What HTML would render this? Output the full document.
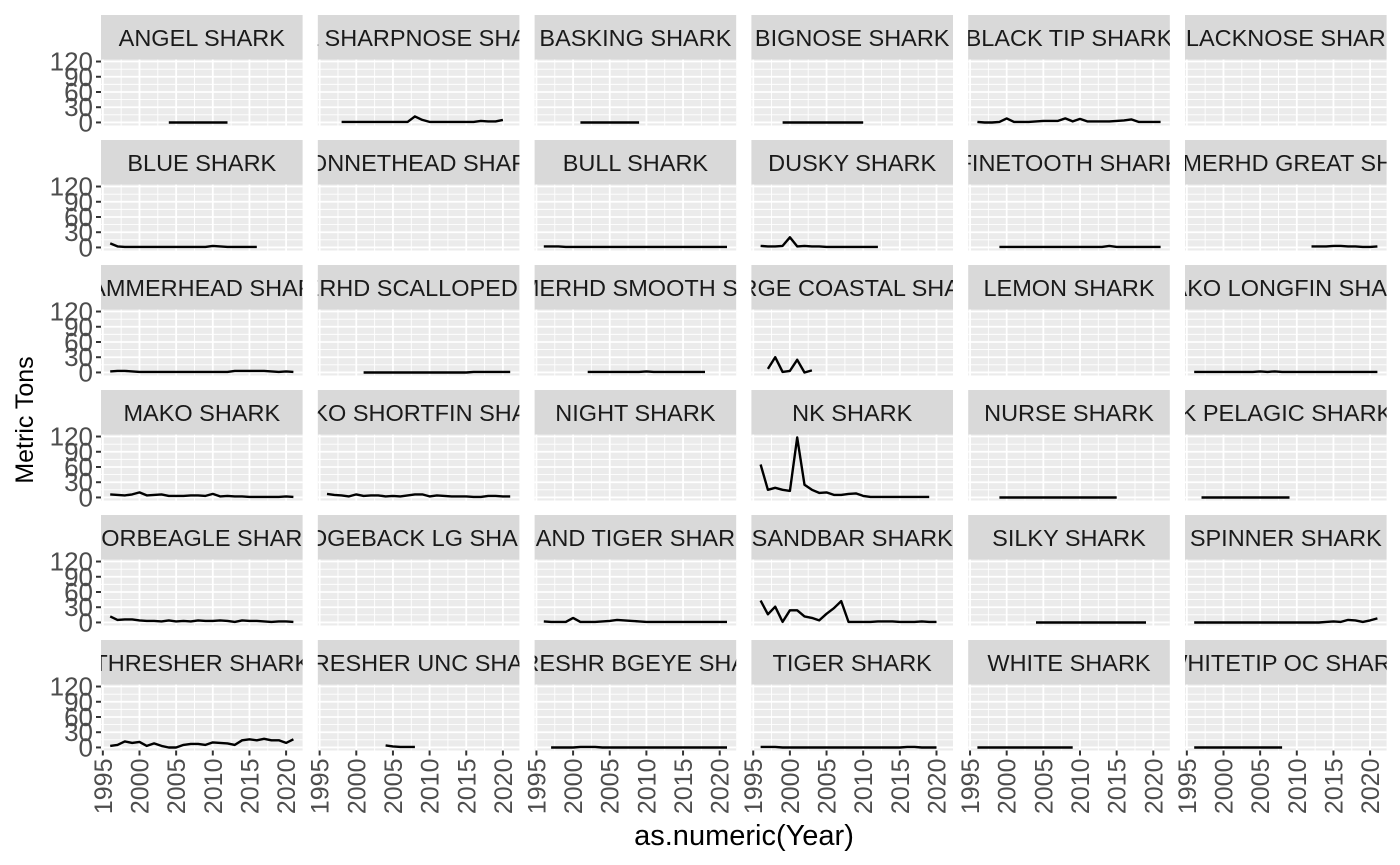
<!DOCTYPE html>
<html><head><meta charset="utf-8">
<style>
html,body{margin:0;padding:0;background:#fff;}
svg{display:block;font-family:"Liberation Sans",Arial,sans-serif;}
</style></head>
<body>
<svg id="chart" width="1400" height="865" viewBox="0 0 1400 865" xmlns="http://www.w3.org/2000/svg">
<text x="0" y="0" transform="translate(33,420) rotate(-90)" text-anchor="middle" font-size="25" fill="#000">Metric Tons</text>
<text x="744" y="845" text-anchor="middle" font-size="29" fill="#000">as.numeric(Year)</text>
</svg>
<script>
const species = ["ANGEL SHARK","ATL SHARPNOSE SHARK","BASKING SHARK","BIGNOSE SHARK","BLACK TIP SHARK","BLACKNOSE SHARK",
"BLUE SHARK","BONNETHEAD SHARK","BULL SHARK","DUSKY SHARK","FINETOOTH SHARK","HAMMERHD GREAT SHARK",
"HAMMERHEAD SHARK","HAMMERHD SCALLOPED SHARK","HAMMERHD SMOOTH SHARK","LARGE COASTAL SHARK","LEMON SHARK","MAKO LONGFIN SHARK",
"MAKO SHARK","MAKO SHORTFIN SHARK","NIGHT SHARK","NK SHARK","NURSE SHARK","NK PELAGIC SHARKS",
"PORBEAGLE SHARK","RIDGEBACK LG SHARK","SAND TIGER SHARK","SANDBAR SHARK","SILKY SHARK","SPINNER SHARK",
"THRESHER SHARK","THRESHER UNC SHARK","THRESHR BGEYE SHARK","TIGER SHARK","WHITE SHARK","WHITETIP OC SHARK"];
const startYears = [2004,1998,2001,1999,1996,null, 1996,null,1996,1996,1999,2012, 1996,2001,2002,1997,null,1996,
 1996,1996,null,1996,1999,1997, 1996,null,1996,1996,2004,1996, 1996,2004,1997,1996,1996,1996];
const seriesValues = [
 [0,0,0,0,0,0,0,0,0],
 [1,1,1,1,1,1,1,1,1,1,12,5,1,1,1,1,1,1,1,3,2,2,5],
 [0,0,0,0,0,0,0,0,0],
 [0,0,0,0,0,0,0,0,0,0,0,0],
 [1,0,0,1,8,1,1,1,2,3,3,3,8,2,7,2,2,2,2,3,4,6,1,1,1,1],
 [],
 [8,2,1,1,1,1,1,1,1,1,1,1,1,1,3,2,1,1,1,1,1],
 [],
 [2,2,2,1,1,1,1,1,1,1,1,1,1,1,1,1,1,1,1,1,1,1,1,1,1,1],
 [3,2,2,3,20,2,3,2,2,1,1,1,1,1,1,1,1],
 [1,1,1,1,1,1,1,1,1,1,1,1,1,1,1,3,1,1,1,1,1,1,1],
 [2,2,2,3,3,2,2,1,1,2],
 [2,3,3,2,1,1,1,1,1,1,1,1,1,1,1,1,1,3,3,3,3,3,2,1,2,1],
 [0,0,0,0,0,0,0,0,0,0,0,0,0,0,0,1,1,1,1,1,1],
 [1,1,1,1,1,1,1,1,2,1,1,1,1,1,1,1,1],
 [7,30,1,3,25,0,4],
 [],
 [1,1,1,1,1,1,1,1,1,2,1,2,1,1,1,1,1,1,1,1,1,1,1,1,1,1],
 [6,5,4,6,10,4,5,6,3,3,3,4,4,3,7,2,3,2,2,1,1,1,1,1,2,1],
 [7,5,4,2,6,3,4,4,2,3,2,4,6,6,2,4,3,2,2,2,1,1,3,3,2,2],
 [],
 [65,15,19,15,13,118,25,15,9,10,5,5,7,8,3,1,1,1,1,1,1,1,1,1],
 [0,0,0,0,0,0,0,0,0,0,0,0,0,0,0,0,0],
 [0,0,0,0,0,0,0,0,0,0,0,0,0],
 [12,5,6,6,4,3,3,2,4,2,3,2,4,3,3,4,3,1,4,3,3,2,1,2,2,1],
 [],
 [2,1,1,1,9,1,1,1,2,3,5,4,3,2,1,1,1,1,1,1,1,1,1,1,1,1],
 [43,16,31,1,24,24,12,9,4,17,28,42,1,1,1,1,2,2,2,1,1,1,2,1,1],
 [0,0,0,0,0,0,0,0,0,0,0,0,0,0,0,0],
 [0,0,0,0,0,0,0,0,0,0,0,0,0,0,0,0,0,0,1,2,1,5,4,1,4,8],
 [3,5,12,9,11,3,8,3,0,0,5,7,7,5,10,9,8,5,14,16,14,17,14,14,9,16],
 [4,2,1,1,1],
 [0,0,0,0,1,1,1,0,0,0,0,0,0,0,0,0,0,0,0,0,0,0,0,0,0],
 [1,1,1,0,0,0,0,0,0,0,0,0,0,0,0,0,0,0,0,0,1,1,0,0,0],
 [0,0,0,0,0,0,0,0,0,0,0,0,0,0],
 [0,0,0,0,0,0,0,0,0,0,0,0,0]
];
const yTicks = [0,30,60,90,120];
const yMinor = [15,45,75,105];
const xTicks = [1995,2000,2005,2010,2015,2020];
const xMinor = [1997.5,2002.5,2007.5,2012.5,2017.5];

const svg = document.getElementById('chart');
const NS = 'http://www.w3.org/2000/svg';
const X0 = 1994.75, X1 = 2022.25, Y0 = -6, Y1 = 124;
const PW = 201.6, PH = 66, pitchX = 216.8, pitchY = 125, left0 = 101, stripTop0 = 15, stripH = 44.5;
function mk(tag, attrs){const e=document.createElementNS(NS,tag);for(const k in attrs)e.setAttribute(k,attrs[k]);return e;}
function panelLeft(c){return left0 + c*pitchX;}
function panelTop(r){return stripTop0 + stripH + r*pitchY;}
function xs(c, yr){return panelLeft(c) + (yr - X0)/(X1-X0)*PW;}
function ys(r, v){return panelTop(r) + (Y1 - v)/(Y1-Y0)*PH;}

const defs = mk('defs',{});
svg.appendChild(defs);

species.forEach((name, i) => {
  const r = Math.floor(i/6), c = i%6;
  const L = panelLeft(c), T = panelTop(r);
  const g = mk('g',{});
  
  
  svg.appendChild(g);
  const cp = mk('clipPath',{id:'clip'+i});
  cp.appendChild(mk('rect',{x:L,y:T-stripH,width:PW,height:stripH}));
  defs.appendChild(cp);
  const strip = mk('rect',{x:L,y:T-stripH,width:PW,height:stripH,fill:'#D9D9D9'});
  
  
  g.appendChild(strip);
  const st = mk('text',{x:L+PW/2,y:T-stripH/2+8.5,'text-anchor':'middle','font-size':23.5,fill:'#1A1A1A','clip-path':'url(#clip'+i+')'});
  
  
  st.textContent = name;
  g.appendChild(st);
  const bg = mk('rect',{x:L,y:T,width:PW,height:PH,fill:'#EBEBEB'});
  
  
  g.appendChild(bg);
  yMinor.forEach(v=>g.appendChild(mk('line',{x1:L,x2:L+PW,y1:ys(r,v),y2:ys(r,v),stroke:'#fff','stroke-width':0.9})));
  xMinor.forEach(v=>g.appendChild(mk('line',{x1:xs(c,v),x2:xs(c,v),y1:T,y2:T+PH,stroke:'#fff','stroke-width':0.9})));
  yTicks.forEach(v=>g.appendChild(mk('line',{x1:L,x2:L+PW,y1:ys(r,v),y2:ys(r,v),stroke:'#fff','stroke-width':1.8})));
  xTicks.forEach(v=>g.appendChild(mk('line',{x1:xs(c,v),x2:xs(c,v),y1:T,y2:T+PH,stroke:'#fff','stroke-width':1.8})));
  const vals = seriesValues[i];
  if (vals.length && startYears[i] !== null) {
    const pts = vals.map((v,k)=>xs(c,startYears[i]+k).toFixed(1)+','+ys(r,v).toFixed(1)).join(' ');
    const pl = mk('polyline',{points:pts,fill:'none',stroke:'#000','stroke-width':2.4,'stroke-linejoin':'round'});
    
    
    g.appendChild(pl);
  }
  if (c === 0) {
    yTicks.forEach(v=>{
      g.appendChild(mk('line',{x1:L-5,x2:L,y1:ys(r,v),y2:ys(r,v),stroke:'#333','stroke-width':2}));
      const t = mk('text',{x:L-8,y:ys(r,v)+9,'text-anchor':'end','font-size':26,fill:'#4D4D4D'});
      
      
      t.textContent = v;
      g.appendChild(t);
    });
  }
  if (r === 5) {
    xTicks.forEach(v=>{
      const x = xs(c,v);
      g.appendChild(mk('line',{x1:x,x2:x,y1:T+PH,y2:T+PH+5,stroke:'#333','stroke-width':2}));
      const t = mk('text',{x:0,y:0,'text-anchor':'end','font-size':25,fill:'#4D4D4D',transform:'translate('+(x+9)+','+(T+PH+8)+') rotate(-90)'});
      
      
      t.textContent = v;
      g.appendChild(t);
    });
  }
});
</script>
</body></html>
